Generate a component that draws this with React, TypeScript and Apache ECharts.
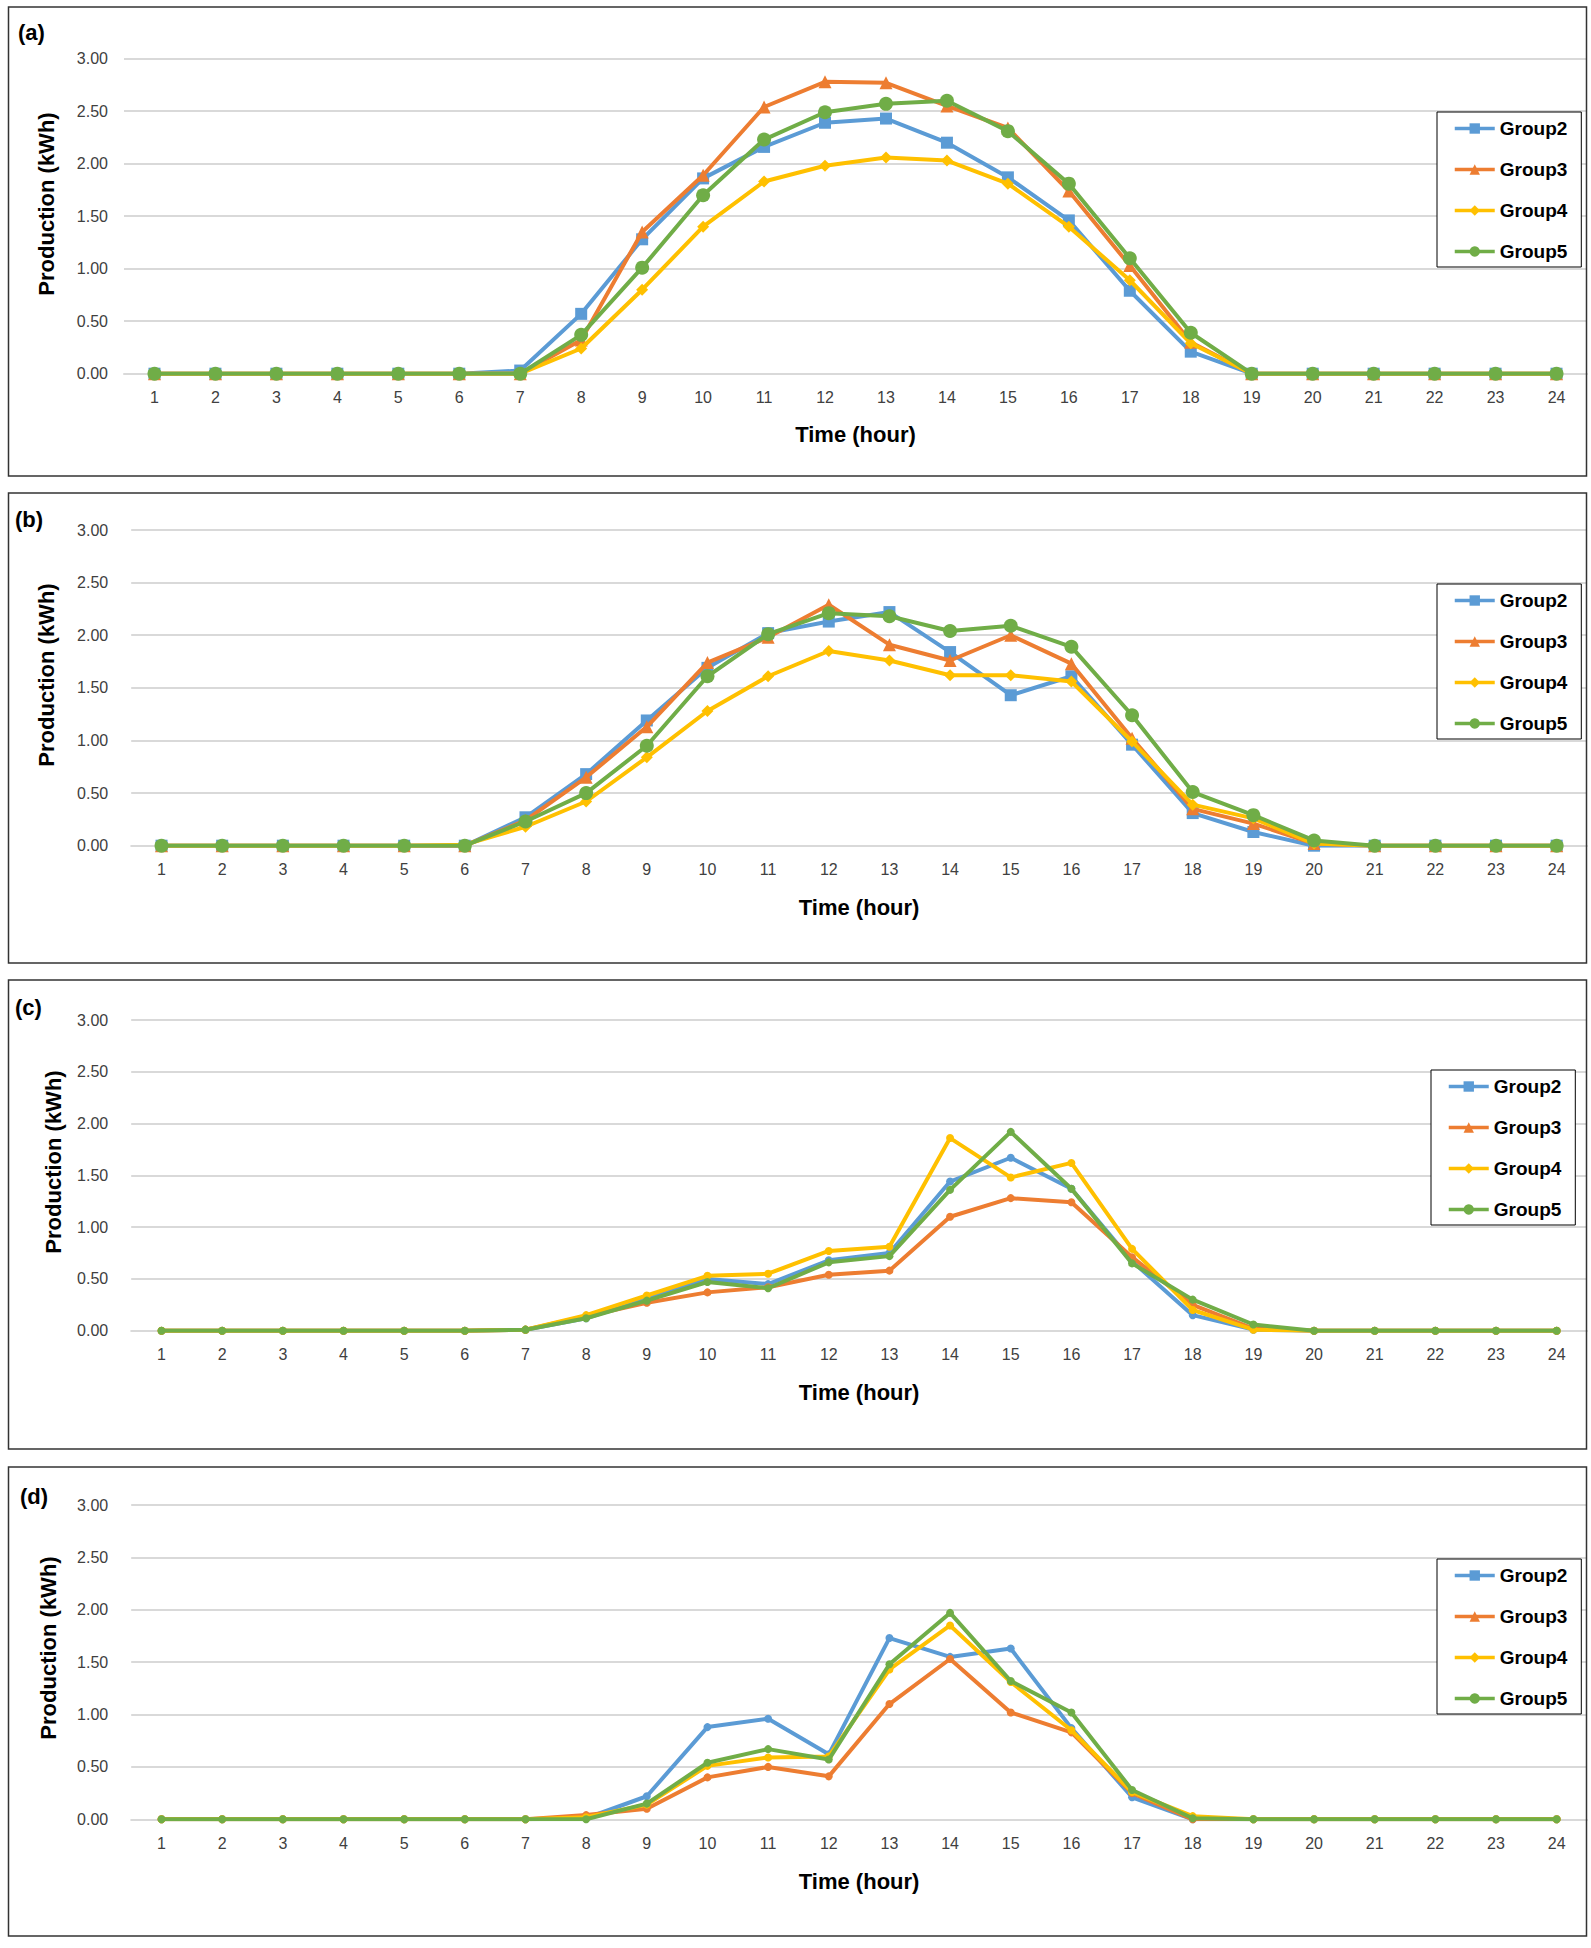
import React, { useEffect, useRef } from "react";
import * as echarts from "echarts";

const hours = ["1","2","3","4","5","6","7","8","9","10","11","12","13","14","15","16","17","18","19","20","21","22","23","24"];
const yTicks = [0, 0.5, 1, 1.5, 2, 2.5, 3];
const groupNames = ["Group2", "Group3", "Group4", "Group5"];
const panelLabels = ["(a)", "(b)", "(c)", "(d)"];

// Panel (a)
const aGroup2 = [0,0,0,0,0,0,0.03,0.57,1.28,1.86,2.16,2.39,2.43,2.20,1.87,1.46,0.79,0.21,0,0,0,0,0,0];
const aGroup3 = [0,0,0,0,0,0,0,0.32,1.35,1.89,2.54,2.78,2.77,2.55,2.34,1.74,1.03,0.30,0,0,0,0,0,0];
const aGroup4 = [0,0,0,0,0,0,0,0.24,0.80,1.40,1.83,1.98,2.06,2.03,1.81,1.40,0.89,0.29,0,0,0,0,0,0];
const aGroup5 = [0,0,0,0,0,0,0,0.37,1.01,1.70,2.23,2.49,2.57,2.60,2.31,1.81,1.10,0.39,0,0,0,0,0,0];

// Panel (b)
const bGroup2 = [0,0,0,0,0,0,0.27,0.68,1.19,1.69,2.02,2.13,2.22,1.84,1.43,1.61,0.96,0.31,0.13,0,0,0,0,0];
const bGroup3 = [0,0,0,0,0,0,0.24,0.65,1.13,1.74,1.98,2.29,1.91,1.76,2.00,1.73,1.02,0.35,0.21,0.02,0,0,0,0];
const bGroup4 = [0,0,0,0,0,0.01,0.18,0.42,0.84,1.28,1.61,1.85,1.76,1.62,1.62,1.56,0.99,0.39,0.26,0.02,0,0,0,0];
const bGroup5 = [0,0,0,0,0,0,0.23,0.50,0.95,1.61,2.01,2.21,2.18,2.04,2.09,1.89,1.24,0.51,0.29,0.05,0,0,0,0];

// Panel (c)
const cGroup2 = [0,0,0,0,0,0,0.01,0.12,0.31,0.50,0.45,0.68,0.75,1.44,1.67,1.37,0.67,0.15,0.01,0,0,0,0,0];
const cGroup3 = [0,0,0,0,0,0,0.01,0.14,0.27,0.37,0.42,0.54,0.58,1.10,1.28,1.24,0.71,0.25,0.02,0,0,0,0,0];
const cGroup4 = [0,0,0,0,0,0,0.01,0.15,0.34,0.53,0.55,0.77,0.81,1.86,1.48,1.62,0.79,0.20,0.01,0,0,0,0,0];
const cGroup5 = [0,0,0,0,0,0,0.01,0.12,0.29,0.47,0.41,0.66,0.72,1.36,1.92,1.37,0.65,0.30,0.06,0,0,0,0,0];

// Panel (d)
const dGroup2 = [0,0,0,0,0,0,0,0.01,0.22,0.88,0.96,0.62,1.73,1.55,1.63,0.87,0.21,0,0,0,0,0,0,0];
const dGroup3 = [0,0,0,0,0,0,0,0.04,0.10,0.40,0.50,0.41,1.10,1.53,1.02,0.83,0.25,0,0,0,0,0,0,0];
const dGroup4 = [0,0,0,0,0,0,0,0.02,0.14,0.51,0.59,0.60,1.43,1.85,1.31,0.85,0.26,0.03,0,0,0,0,0,0];
const dGroup5 = [0,0,0,0,0,0,0,0,0.15,0.54,0.67,0.57,1.48,1.97,1.32,1.02,0.28,0.01,0,0,0,0,0,0];

const panelData = [
  [aGroup2, aGroup3, aGroup4, aGroup5],
  [bGroup2, bGroup3, bGroup4, bGroup5],
  [cGroup2, cGroup3, cGroup4, cGroup5],
  [dGroup2, dGroup3, dGroup4, dGroup5],
];

const colors = ["#5B9BD5", "#ED7D31", "#FFC000", "#70AD47"];
const bigSymbols = ["rect", "triangle", "diamond", "circle"];
const bigSizes = [12, 13, 12, 14];

const W = 1591;
const H = 1948;
const FONT = "'Liberation Sans', Arial, sans-serif";

// layout (page pixels)
const panels = [
  { boxTop: 7, boxBottom: 476, gridLeft: 124, gridTop: 58.7, gridBottom: 373.7, yLabelMargin: 16, nameGap: 50,
    legendLeft: 1437, legendTop: 112, yTitleX: 46, yTitleY: 204, labelX: 18, labelY: 32, big: true },
  { boxTop: 493, boxBottom: 963, gridLeft: 131.2, gridTop: 530, gridBottom: 845.7, yLabelMargin: 23, nameGap: 51,
    legendLeft: 1437, legendTop: 584, yTitleX: 46, yTitleY: 675, labelX: 15, labelY: 519, big: true },
  { boxTop: 980, boxBottom: 1449, gridLeft: 131.2, gridTop: 1020, gridBottom: 1330.7, yLabelMargin: 23, nameGap: 51,
    legendLeft: 1431, legendTop: 1070, yTitleX: 53.6, yTitleY: 1162, labelX: 15, labelY: 1007, big: false },
  { boxTop: 1467, boxBottom: 1936, gridLeft: 131.2, gridTop: 1505, gridBottom: 1819.3, yLabelMargin: 23, nameGap: 51,
    legendLeft: 1437, legendTop: 1559, yTitleX: 48.5, yTitleY: 1648, labelX: 20, labelY: 1496, big: false },
];

export default function App() {
  const ref = useRef<HTMLDivElement | null>(null);

  useEffect(() => {
    if (!ref.current) return;
    const chart = echarts.init(ref.current, null, { renderer: "svg" });

    const grids: any[] = [];
    const xAxes: any[] = [];
    const yAxes: any[] = [];
    const legends: any[] = [];
    const series: any[] = [];
    const graphics: any[] = [];

    panels.forEach((p, pi) => {
      grids.push({
        left: p.gridLeft,
        right: 4,
        top: p.gridTop,
        height: p.gridBottom - p.gridTop,
        containLabel: false,
      });
      xAxes.push({
        type: "category",
        gridIndex: pi,
        data: hours,
        boundaryGap: true,
        axisTick: { show: false },
        axisLine: { show: true, lineStyle: { color: "#d9d9d9", width: 2 } },
        axisLabel: { color: "#404040", fontSize: 16, fontFamily: FONT, margin: 16, interval: 0 },
        name: "Time (hour)",
        nameLocation: "middle",
        nameGap: p.nameGap,
        nameTextStyle: { color: "#000", fontSize: 22, fontWeight: "bold", fontFamily: FONT },
        splitLine: { show: false },
      });
      yAxes.push({
        type: "value",
        gridIndex: pi,
        min: yTicks[0],
        max: yTicks[yTicks.length - 1],
        interval: 0.5,
        axisLine: { show: false },
        axisTick: { show: false },
        axisLabel: {
          color: "#404040",
          fontSize: 16,
          fontFamily: FONT,
          margin: p.yLabelMargin,
          formatter: (v: number) => v.toFixed(2),
        },
        splitLine: { show: true, lineStyle: { color: "#d9d9d9", width: 2 } },
      });
      legends.push({
        show: true,
        orient: "vertical",
        left: p.legendLeft,
        top: p.legendTop,
        data: groupNames,
        selectedMode: false,
        itemWidth: 40,
        itemHeight: 13,
        itemGap: 22,
        padding: [7, 14, 6, 16],
        borderColor: "#000",
        borderWidth: 1,
        backgroundColor: "#fff",
        lineStyle: { width: 3.5 },
        textStyle: { color: "#000", fontSize: 19, lineHeight: 19, fontWeight: "bold", fontFamily: FONT },
      });

      panelData[pi].forEach((vals, si) => {
        series.push({
          type: "line",
          name: groupNames[si],
          xAxisIndex: pi,
          yAxisIndex: pi,
          data: vals,
          symbol: p.big ? bigSymbols[si] : "circle",
          symbolSize: p.big ? bigSizes[si] : 8,
          showSymbol: true,
          color: colors[si],
          itemStyle: { color: colors[si] },
          lineStyle: { color: colors[si], width: 4 },
          emphasis: { disabled: true },
          silent: true,
          z: 2 + si,
        });
      });

      graphics.push({
        type: "rect",
        shape: { x: 8.5, y: p.boxTop, width: 1578, height: p.boxBottom - p.boxTop },
        style: { fill: "none", stroke: "#333", lineWidth: 1.5 },
        z: 100,
        silent: true,
      });
      graphics.push({
        type: "text",
        x: p.labelX,
        y: p.labelY,
        style: {
          text: panelLabels[pi],
          fontSize: 22,
          fontWeight: "bold",
          fontFamily: FONT,
          fill: "#000",
          align: "left",
          verticalAlign: "middle",
        },
        z: 100,
      });
      graphics.push({
        type: "text",
        x: p.yTitleX,
        y: p.yTitleY,
        rotation: Math.PI / 2,
        style: {
          text: "Production (kWh)",
          fontSize: 22,
          fontWeight: "bold",
          fontFamily: FONT,
          fill: "#000",
          align: "center",
          verticalAlign: "middle",
        },
        z: 100,
      });
    });

    chart.setOption({
      animation: false,
      backgroundColor: "#fff",
      grid: grids,
      xAxis: xAxes,
      yAxis: yAxes,
      legend: legends,
      series,
      graphic: { elements: graphics },
      tooltip: { show: false },
    });

    return () => {
      chart.dispose();
    };
  }, []);

  return (
    <div
      ref={ref}
      style={{ position: "absolute", left: 0, top: 0, width: W, height: H, background: "#fff" }}
    />
  );
}
